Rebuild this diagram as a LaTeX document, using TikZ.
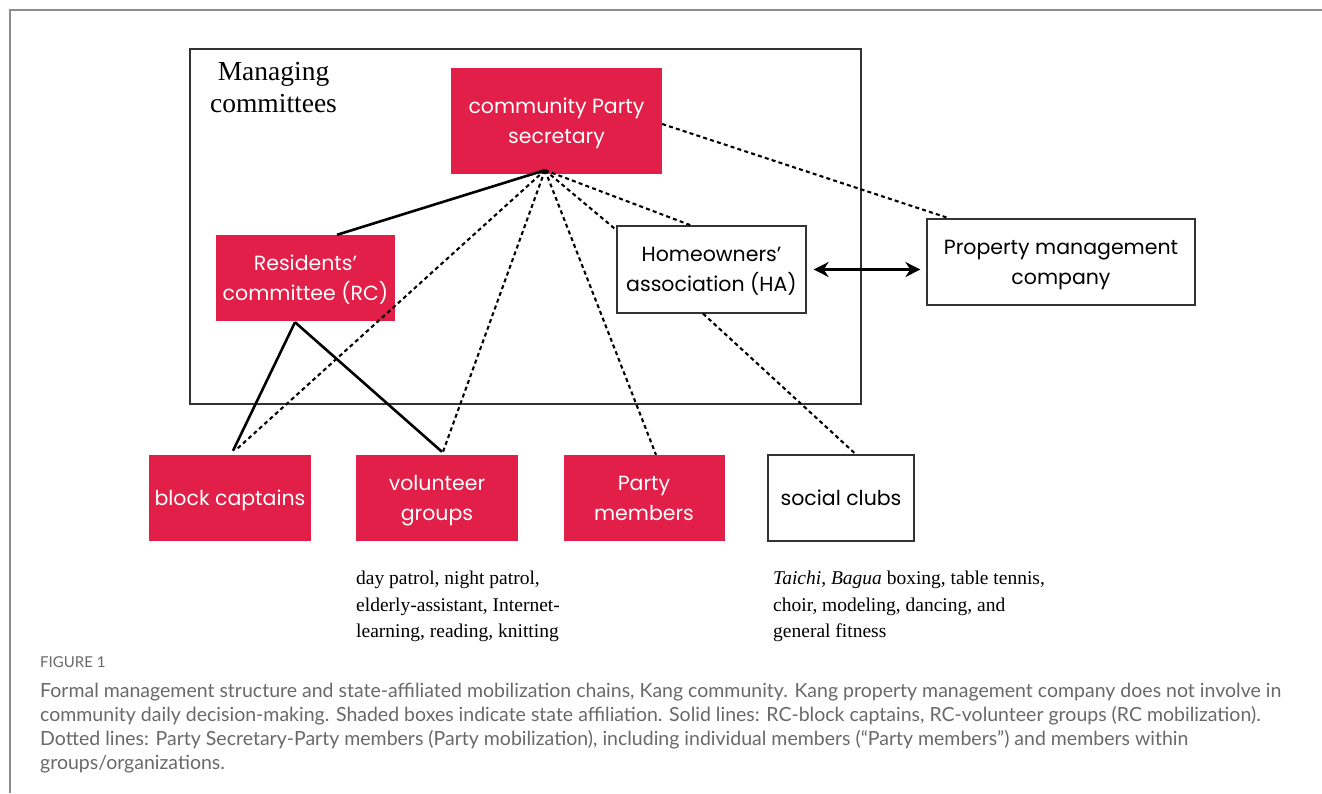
\documentclass[tikz,border=0pt]{standalone}
\usepackage{fontspec}
\setmainfont{Liberation Serif}
\newfontfamily\boxfont{Poppins}
\newfontfamily\capfont{Lato}
\usetikzlibrary{arrows.meta,calc}
\definecolor{statered}{RGB}{226,31,72}
\definecolor{framegray}{RGB}{140,140,140}
\definecolor{capgray}{RGB}{105,105,105}
\tikzset{
  box/.style={rectangle, inner sep=0pt, align=center, text depth=0pt, font=\boxfont\fontsize{20.5}{30}\selectfont},
  statebox/.style={box, fill=statered, text=white},
  plainbox/.style={box, draw=black!80, line width=1.2pt, text=black},
  solidlink/.style={line width=2.6pt, black},
  dotlink/.style={line width=2.1pt, black, dash pattern=on 4pt off 3.2pt},
  note/.style={anchor=north west, align=left, inner sep=0pt, font=\fontsize{19.5}{26.5}\selectfont},
}
\begin{document}
\begin{tikzpicture}[x=1pt,y=-1pt]
\useasboundingbox (0,0) rectangle (1322,793);
\fill[white] (0,0) rectangle (1322,793);
% outer frame
\draw[framegray, line width=1.6pt] (1322,10) -- (10,10) -- (10,793);
% managing committees box
\node[draw=black!80, line width=1.3pt, minimum width=671pt, minimum height=355pt, inner sep=0pt] (mc) at (525.5,226.5) {};
\node[align=center, inner sep=0pt, font=\fontsize{27.5}{32}\selectfont] (mctitle) at (273.5,88) {Managing\\committees};
% nodes
\node[statebox, minimum width=211pt, minimum height=106pt] (sec) at (556.5,121) {community Party\\secretary};
\node[statebox, minimum width=179pt, minimum height=86pt] (rc) at (305.5,278) {Residents’\\committee (RC)};
\node[plainbox, minimum width=189pt, minimum height=87pt] (ha) at (711.5,269.5) {Homeowners’\\association (HA)};
\node[plainbox, minimum width=268pt, minimum height=86pt] (pmc) at (1061,262) {Property management\\company};
\node[statebox, minimum width=162pt, minimum height=86pt] (bc) at (230,498) {block captains};
\node[statebox, minimum width=162pt, minimum height=86pt] (vg) at (437,498) {volunteer\\groups};
\node[statebox, minimum width=161pt, minimum height=86pt] (pm) at (644,498) {Party\\members};
\node[plainbox, minimum width=146pt, minimum height=86pt] (sc) at (841,498) {social clubs};
% connector points
\coordinate (apex) at ([xshift=-11.5pt,yshift=4pt]sec.south);
\coordinate (rcbot) at ([xshift=-10.5pt,yshift=-1pt]rc.south);
% solid lines
\draw[solidlink] (apex) -- ([xshift=31.5pt]rc.north);
\draw[solidlink] (rcbot) -- ([xshift=3pt,yshift=4pt]bc.north);
\draw[solidlink] (rcbot) -- ([xshift=5pt,yshift=3pt]vg.north);
% dotted lines
\draw[dotlink] (apex) -- ([xshift=6pt,yshift=5pt]bc.north);
\draw[dotlink] (apex) -- ([xshift=6pt,yshift=3pt]vg.north);
\draw[dotlink] (apex) -- ([xshift=12pt]pm.north);
\draw[dotlink] (apex) -- ([xshift=-2pt,yshift=-3pt]ha.north west);
\draw[dotlink] (apex) -- ([xshift=-20.5pt]ha.north);
\draw[dotlink] ([yshift=-3pt]sec.east) -- ([xshift=20pt,yshift=1pt]pmc.north west);
\draw[dotlink] ([xshift=-8.5pt]ha.south) -- ([xshift=15pt]sc.north);
% double arrow
\draw[line width=2.8pt, {Stealth[length=15pt,width=15pt]}-{Stealth[length=15pt,width=15pt]}] ([xshift=7pt]ha.east) -- ([xshift=-6pt]ha.east -| pmc.west);
% notes
\node[note] (vgnote) at (356,571) {day patrol, night patrol,\\elderly-assistant, Internet-\\learning, reading, knitting};
\node[note] (scnote) at (773,571) {\textit{Taichi}, \textit{Bagua} boxing, table tennis,\\choir, modeling, dancing, and\\general fitness};
% caption
\node[anchor=north west, inner sep=0pt, text=capgray, font=\capfont\fontsize{15}{17}\selectfont] (figlabel) at (40,656) {FIGURE 1};
\node[anchor=north west, inner sep=0pt, align=left, text=capgray, font=\capfont\fontsize{19.5}{24}\selectfont] (caption) at (40,683) {Formal management structure and state-affiliated mobilization chains, Kang community. Kang property management company does not involve in\\community daily decision-making. Shaded boxes indicate state affiliation. Solid lines: RC-block captains, RC-volunteer groups (RC mobilization).\\Dotted lines: Party Secretary-Party members (Party mobilization), including individual members (“Party members”) and members within\\groups/organizations.};
\end{tikzpicture}
\end{document}
